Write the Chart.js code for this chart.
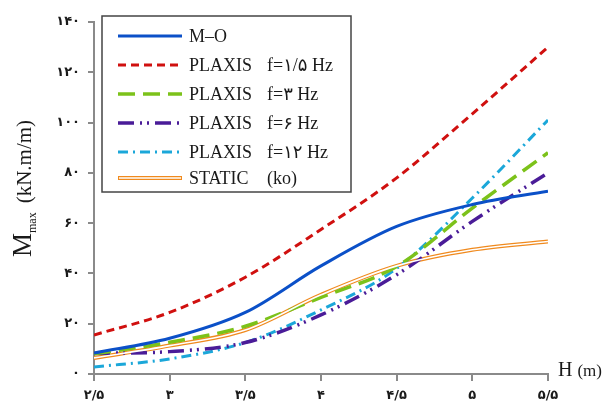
<!DOCTYPE html>
<html>
<head>
<meta charset="utf-8">
<script src="https://cdn.jsdelivr.net/npm/chart.js@4.4.1/dist/chart.umd.min.js"></script>
<style>
  html, body { margin: 0; padding: 0; background: #fff; }
  #wrap { width: 608px; height: 405px; }
</style>
</head>
<body>
<div id="wrap"><canvas id="momentChart" width="608" height="405"></canvas></div>
<script>
// H (m) values along the x axis
const hValues = [2.5, 3, 3.5, 4, 4.5, 5, 5.5];

// Mmax (kN.m/m)
const mo      = [8.3, 14.2, 24.5, 43.0, 58.7, 67.4, 72.7];
const plaxis15 = [15.5, 24.5, 38.5, 57.5, 78.0, 103.5, 130.0];
const plaxis3  = [8.0, 12.6, 19.0, 30.5, 42.8, 66.0, 88.0];
const plaxis6  = [8.2, 8.9, 12.5, 23.5, 39.5, 60.7, 80.0];
const plaxis12 = [2.8, 6.0, 12.5, 25.5, 42.0, 70.0, 101.0];
const staticKo = [6.4, 11.3, 17.5, 31.5, 43.0, 49.4, 52.7];

// Tick labels (Persian digits, "/" as decimal mark)
const xTickLabels = ['۲/۵', '۳', '۳/۵', '۴', '۴/۵', '۵', '۵/۵'];
const yTickLabels = ['۰', '۲۰', '۴۰', '۶۰', '۸۰', '۱۰۰', '۱۲۰', '۱۴۰'];

// Legend text
const legendNames = ['M–O', 'PLAXIS', 'PLAXIS', 'PLAXIS', 'PLAXIS', 'STATIC'];
const legendNotes = ['', 'f=۱/۵ Hz', 'f=۳ Hz', 'f=۶ Hz', 'f=۱۲ Hz', '(ko)'];

const SERIF = '"Liberation Serif", "Times New Roman", "DejaVu Sans", serif';

function toPoints(values) {
    return values.map((v, i) => ({ x: hValues[i], y: v }));
}

function lineSet(label, values, color, width, dash, order) {
    return {
        label: label,
        data: toPoints(values),
        borderColor: color,
        backgroundColor: color,
        borderWidth: width,
        borderDash: dash,
        order: order,
        pointRadius: 0,
        cubicInterpolationMode: 'monotone',
        fill: false
    };
}

// lower order is drawn on top; the white core sits over the orange line
const series = [
    lineSet('M-O', mo, '#0b50c8', 3, [], 1),
    lineSet('PLAXIS f=1.5', plaxis15, '#d0100f', 3, [8, 5], 1),
    lineSet('PLAXIS f=3', plaxis3, '#7cc21a', 3.5, [17, 8], 1),
    lineSet('PLAXIS f=6', plaxis6, '#4a1c98', 3.5, [16, 6, 2, 5, 2, 6], 1),
    lineSet('PLAXIS f=12', plaxis12, '#1ba7d9', 3, [10, 5, 2, 5], 1),
    lineSet('STATIC', staticKo, '#f08a1e', 4, [], 1),
    lineSet('STATIC core', staticKo, '#ffffff', 1.6, [], 0)
];

// Axis titles drawn by hand (subscript on M)
const axisTitles = {
    id: 'axisTitles',
    afterDraw(chart) {
        const ctx = chart.ctx;
        ctx.save();
        ctx.fillStyle = '#1a1a1a';
        ctx.textBaseline = 'alphabetic';
        ctx.textAlign = 'left';

        ctx.save();
        ctx.translate(31, 257);
        ctx.rotate(-Math.PI / 2);
        ctx.font = '27px ' + SERIF;
        ctx.fillText('M', 0, 0);
        let w = ctx.measureText('M').width;
        ctx.font = '12px ' + SERIF;
        ctx.fillText('max', w, 5);
        w += ctx.measureText('max').width + 9;
        ctx.font = '21px ' + SERIF;
        ctx.fillText('(kN.m/m)', w, 0);
        ctx.restore();

        ctx.font = '20px ' + SERIF;
        ctx.fillText('H', 558, 376);
        const hw = ctx.measureText('H ').width;
        ctx.font = '17px ' + SERIF;
        ctx.fillText('(m)', 558 + hw, 376);
        ctx.restore();
    }
};

// Boxed legend inside the plot
const boxLegend = {
    id: 'boxLegend',
    afterDraw(chart) {
        const ctx = chart.ctx;
        const rows = [36, 65, 94, 123, 152, 178];
        ctx.save();
        ctx.fillStyle = '#ffffff';
        ctx.fillRect(102, 16, 249, 176);
        ctx.strokeStyle = '#444444';
        ctx.lineWidth = 1.5;
        ctx.strokeRect(102, 16, 249, 176);

        rows.forEach((y, i) => {
            const ds = chart.data.datasets[i];
            ctx.beginPath();
            ctx.setLineDash(ds.borderDash);
            ctx.strokeStyle = ds.borderColor;
            ctx.lineWidth = ds.borderWidth;
            ctx.moveTo(118, y);
            ctx.lineTo(182, y);
            ctx.stroke();
            if (i === 5) {
                const core = chart.data.datasets[6];
                ctx.beginPath();
                ctx.strokeStyle = core.borderColor;
                ctx.lineWidth = core.borderWidth;
                ctx.moveTo(119, y);
                ctx.lineTo(181, y);
                ctx.stroke();
            }
            ctx.setLineDash([]);
            ctx.fillStyle = '#1a1a1a';
            ctx.textBaseline = 'middle';
            ctx.font = '18px ' + SERIF;
            ctx.fillText(legendNames[i], 189, y + 1);
            ctx.fillText(legendNotes[i], 267, y + 1);
        });
        ctx.restore();
    }
};

new Chart(document.getElementById('momentChart').getContext('2d'), {
    type: 'line',
    data: { datasets: series },
    options: {
        responsive: false,
        animation: false,
        devicePixelRatio: 1,
        layout: { padding: { top: 22, right: 60, left: 0, bottom: 0 } },
        plugins: {
            legend: { display: false },
            tooltip: { enabled: false }
        },
        scales: {
            x: {
                type: 'linear',
                min: 2.5,
                max: 5.5,
                afterFit: s => { s.height = 31; },
                afterBuildTicks: s => { s.ticks = hValues.map(v => ({ value: v })); },
                border: { color: '#8a8a8a', width: 2 },
                grid: { drawOnChartArea: false, drawTicks: true, tickLength: 7, color: '#8a8a8a', lineWidth: 2 },
                ticks: {
                    padding: 7,
                    maxRotation: 0,
                    color: '#1a1a1a',
                    font: { family: '"DejaVu Sans"', size: 13, weight: 'bold' },
                    callback: (v, i) => xTickLabels[i]
                }
            },
            y: {
                min: 0,
                max: 140,
                afterFit: s => { s.width = 94; },
                afterBuildTicks: s => { s.ticks = yTickLabels.map((t, i) => ({ value: i * 20 })); },
                border: { color: '#8a8a8a', width: 2 },
                grid: { drawOnChartArea: false, drawTicks: true, tickLength: 6, color: '#8a8a8a', lineWidth: 2 },
                ticks: {
                    padding: 8,
                    color: '#1a1a1a',
                    font: { family: '"DejaVu Sans"', size: 13, weight: 'bold' },
                    callback: (v, i) => yTickLabels[i]
                }
            }
        }
    },
    plugins: [axisTitles, boxLegend]
});
</script>
</body>
</html>
